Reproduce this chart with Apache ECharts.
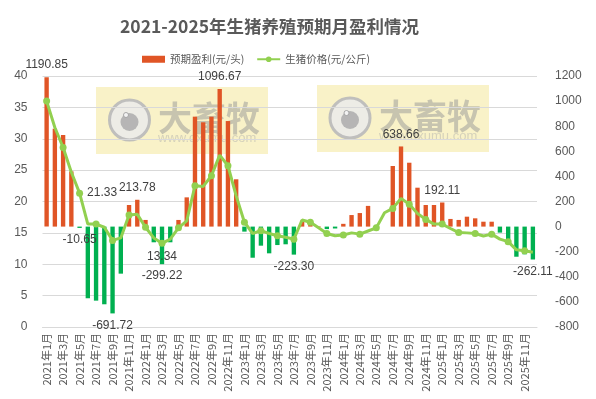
<!DOCTYPE html>
<html>
<head>
<meta charset="utf-8">
<script src="https://cdn.jsdelivr.net/npm/echarts@6/dist/echarts.min.js"></script>
<style>html,body{margin:0;padding:0;background:#fff;}#c{width:596px;height:399px;}</style>
</head>
<body>
<div id="c"></div>
<script>
const months = [];
for (let y = 2021; y <= 2025; y++) for (let m = 1; m <= 12; m++) months.push(y + '年' + m + '月');

const profit = [
  1190.85, 780, 730, 440, -10.65, -571, -590, -619, -691.72, -375, 172, 213.78,
  53, -125, -299.22, -125, 53, 233, 876, 831, 876, 1096.67, 841, 377,
  -40, -248, -152, -213, -147, -141, -223.30, 48, 14, 4, -20, -15,
  22, 92, 108, 165, 6, 0, 483, 638.66, 509, 310, 172, 172,
  192.11, 61, 53, 79, 66, 39, 39, -48, -101, -240, -221, -262.11
];
const price = [
  36.0, 31.8, 28.6, 24.65, 21.33, 16.4, 16.4, 15.9, 13.8, 14.2, 17.85, 17.95,
  15.9, 14.2, 13.34, 14.0, 15.8, 16.9, 22.5, 22.4, 24.1, 27.39, 25.7, 20.9,
  16.7, 14.9, 15.35, 14.9, 14.55, 14.3, 14.0, 17.05, 16.7, 15.8, 14.9, 14.55,
  14.65, 15.0, 14.8, 15.3, 15.8, 18.2, 18.9, 20.5, 19.55, 18.1, 17.15, 16.4,
  16.4, 15.7, 15.05, 15.0, 14.9, 14.5, 14.8, 14.0, 13.6, 12.3, 12.15, 11.9
];
const barLabelIdx = [0, 4, 8, 11, 14, 21, 30, 43, 48, 59];
const lineLabelIdx = [4, 14, 21];
const lineLabelPos = ['right', 'bottom', 'top'];

const ORANGE = '#e05526', GREEN = '#00b050', LINEC = '#92d050';
const labelStyle = {color: '#404040', fontSize: 12, fontFamily: 'Liberation Sans, Arial, sans-serif'};

const barData = profit.map((v, i) => {
  const d = {value: v, itemStyle: {color: v < 0 ? GREEN : ORANGE}};
  if (barLabelIdx.includes(i)) {
    d.label = Object.assign({show: true, position: v < 0 ? 'bottom' : 'top', distance: 6,
      formatter: p => p.value.toFixed(2)}, labelStyle);
  }
  return d;
});
const lineData = price.map((v, i) => {
  const d = {value: v};
  const k = lineLabelIdx.indexOf(i);
  if (k >= 0) {
    d.label = Object.assign({show: true, position: lineLabelPos[k], distance: 4,
      formatter: p => p.value.toFixed(2)}, labelStyle);
  }
  return d;
});

function watermark(x, y, cx, tx) {
  return {
    type: 'group', z: 100, silent: true,
    children: [
      {type: 'rect', shape: {x: x, y: y, width: 172, height: 67}, style: {fill: 'rgba(238,222,110,0.38)'}},
      {type: 'circle', shape: {cx: cx, cy: y + 33, r: 20}, style: {fill: 'rgba(235,235,235,0.85)', stroke: 'rgba(185,185,185,0.9)', lineWidth: 3}},
      {type: 'circle', shape: {cx: cx, cy: y + 35, r: 9}, style: {fill: 'rgba(175,175,175,0.9)'}},
      {type: 'circle', shape: {cx: cx - 3.5, cy: y + 28, r: 2.5}, style: {fill: 'rgba(245,245,245,0.95)', stroke: 'rgba(160,160,160,0.9)', lineWidth: 1}},
      {type: 'text', x: tx, y: y + 31, style: {text: '大畜牧', fontSize: 34, fontWeight: 'bold', fill: 'rgba(150,150,150,0.5)', textVerticalAlign: 'middle', verticalAlign: 'middle', fontFamily: 'Noto Sans CJK SC'}},
      {type: 'text', x: tx, y: y + 51, style: {text: 'www.dxumu.com', fontSize: 13, fill: 'rgba(170,170,170,0.45)', textVerticalAlign: 'middle', verticalAlign: 'middle', fontFamily: 'Liberation Sans, Arial'}}
    ]
  };
}

const chart = echarts.init(document.getElementById('c'), null, {renderer: 'canvas'});
chart.setOption({
  backgroundColor: '#fff',
  animation: false,
  title: {text: '2021-2025年生猪养殖预期月盈利情况', left: 115, top: 13,
    textStyle: {fontSize: 17.5, fontWeight: 'bold', color: '#595959', fontFamily: 'Noto Sans CJK SC'}},
  legend: {left: 142, top: 54, padding: 0, itemGap: 12, itemWidth: 23, itemHeight: 7,
    textStyle: {fontSize: 10.5, color: '#595959', fontFamily: 'Noto Sans CJK SC'},
    data: [{name: '预期盈利(元/头)', icon: 'rect', itemStyle: {color: ORANGE}}, {name: '生猪价格(元/公斤)'}]},
  grid: {left: 42.5, right: 59, top: 76, bottom: 72},
  xAxis: {type: 'category', data: months,
    axisLine: {show: true, lineStyle: {color: '#d9d9d9'}}, axisTick: {show: false},
    axisLabel: {rotate: 90, interval: 1, fontSize: 11, color: '#595959', margin: 6, fontFamily: 'Noto Sans CJK SC'}},
  yAxis: [
    {type: 'value', min: 0, max: 40, interval: 5, position: 'left',
      axisLabel: {fontSize: 12, color: '#595959', margin: 15, fontFamily: 'Liberation Sans, Arial'},
      axisLine: {show: false}, axisTick: {show: false},
      splitLine: {lineStyle: {color: '#d9d9d9'}}},
    {type: 'value', min: -800, max: 1200, interval: 200, position: 'right',
      axisLabel: {fontSize: 12, color: '#595959', margin: 18, fontFamily: 'Liberation Sans, Arial',
        formatter: v => String(v)},
      axisLine: {show: false}, axisTick: {show: false}, splitLine: {show: false}}
  ],
  series: [
    {name: '预期盈利(元/头)', type: 'bar', yAxisIndex: 1, barWidth: '53%', data: barData,
      itemStyle: {color: ORANGE}},
    {name: '生猪价格(元/公斤)', type: 'line', yAxisIndex: 0, data: lineData,
      symbol: 'circle', symbolSize: 7, lineStyle: {color: LINEC, width: 3},
      itemStyle: {color: LINEC}, z: 5}
  ],
  graphic: [watermark(96, 87, 129.5, 158), watermark(317, 85, 350, 379)]
});
</script>
</body>
</html>
